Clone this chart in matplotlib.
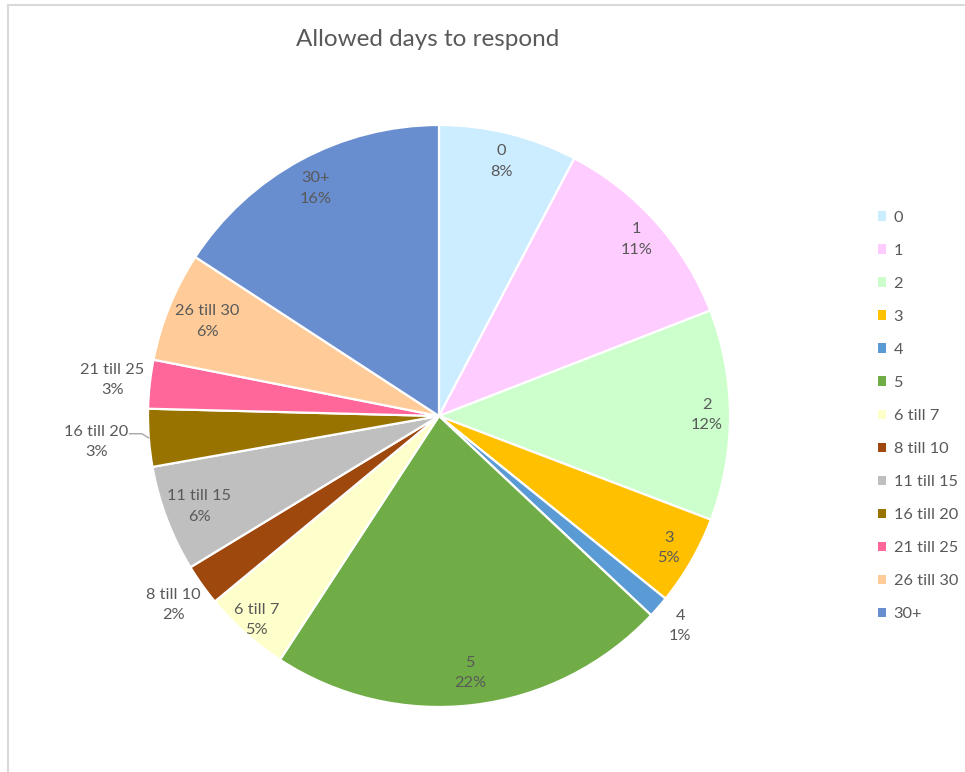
import numpy as np
import matplotlib
matplotlib.use("Agg")
import matplotlib.pyplot as plt
from matplotlib.lines import Line2D
from matplotlib.patches import Patch

plt.rcParams['font.family'] = ['Lato', 'DejaVu Sans']

# share of answers per category (percent)
categories = ["0", "1", "2", "3", "4", "5", "6 till 7", "8 till 10",
              "11 till 15", "16 till 20", "21 till 25", "26 till 30", "30+"]
shares = [7.7, 11.4, 11.7, 5.0, 1.2, 22.2, 4.8, 2.3, 5.9, 3.2, 2.7, 6.1, 15.8]
colors = ["#CCECFF", "#FFCCFF", "#CCFFCC", "#FFC000", "#5B9BD5", "#70AD47",
          "#FFFFCC", "#9E480E", "#BFBFBF", "#997300", "#FF6699", "#FFCC99",
          "#698ED0"]

# where each data label sits (fraction of the radius)
label_dist = [0.90, 0.91, 0.92, 0.91, 1.10, 0.89, 0.94, 1.12, 0.88, 1.18, 1.13, 0.86, 0.89]

TEXT = "#595959"
W, H = 965, 772
cx, cy, R = 439, 416, 291   # pie centre and radius in pixels
LIM = 1.3

fig = plt.figure(figsize=(W / 100, H / 100), dpi=100)
half = R * LIM
ax = fig.add_axes([(cx - half) / W, (H - cy - half) / H, 2 * half / W, 2 * half / H])

wedges, _ = ax.pie(shares, colors=colors, startangle=90, counterclock=False,
                   radius=1, wedgeprops=dict(edgecolor="white", linewidth=1.6))
ax.set_xlim(-LIM, LIM)
ax.set_ylim(-LIM, LIM)
ax.set_aspect("equal")
ax.axis("off")

total = sum(shares)
for i, (w, name, val, d) in enumerate(zip(wedges, categories, shares, label_dist)):
    ang = np.deg2rad((w.theta1 + w.theta2) / 2)
    x, y = d * np.cos(ang), d * np.sin(ang)
    ax.text(x, y, f"{name}\n{val / total * 100:.0f}%", ha="center", va="center",
            fontsize=11.8, color=TEXT, linespacing=1.6)
    if name == "16 till 20":
        # leader line from label to slice
        ex, ey = np.cos(ang), np.sin(ang)
        ly = y + 0.028
        ax.plot([x + 0.113, ex - 0.024, ex], [ly, ly, ey], color="#A6A6A6", lw=1)

handles = [Patch(facecolor=c, edgecolor="none") for c in colors]
fig.legend(handles, categories, loc="center left",
           bbox_to_anchor=(878 / W, 1 - 416 / H), bbox_transform=fig.transFigure,
           frameon=False, fontsize=11.8, labelcolor=TEXT,
           handlelength=0.5, handleheight=0.5, handletextpad=0.45,
           labelspacing=1.16, borderpad=0, borderaxespad=0)

fig.text(428 / W, 1 - 40 / H, "Allowed days to respond", ha="center", va="center",
         fontsize=17.5, color=TEXT)

# chart area border (top and left edges visible)
fig.add_artist(Line2D([8 / W, 1], [1 - 5 / H, 1 - 5 / H], transform=fig.transFigure,
                      color="#D9D9D9", lw=1.5))
fig.add_artist(Line2D([8 / W, 8 / W], [0, 1 - 5 / H], transform=fig.transFigure,
                      color="#D9D9D9", lw=1.5))

fig.savefig("out.png", dpi=100, facecolor="white")
